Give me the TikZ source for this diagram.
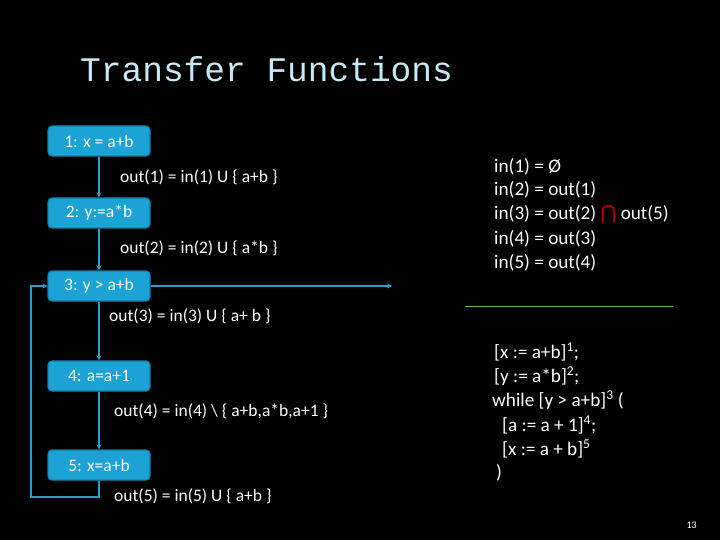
\documentclass[tikz,border=0pt]{standalone}
\usepackage{fontspec}
\setmainfont{Carlito}
\newfontfamily\titlefont{Liberation Mono}
\usetikzlibrary{arrows.meta}
\definecolor{boxc}{HTML}{1BA3D6}
\definecolor{boxe}{HTML}{1580AA}
\definecolor{linec}{HTML}{2A9CC8}
\begin{document}
\begin{tikzpicture}[x=1pt,y=-1pt,
  stmt/.style={draw=boxe,line width=1.2pt,fill=boxc,rounded corners=4pt,minimum width=102pt,minimum height=30pt,inner sep=0pt,text=white,font=\fontsize{17.5}{20}\selectfont},
  lbl/.style={anchor=west,text=white,inner sep=0pt,font=\fontsize{17.5}{20}\selectfont},
  rt/.style={anchor=west,text=white,inner sep=0pt,font=\fontsize{19.2}{23}\selectfont},
  conn/.style={draw=linec,line width=1.5pt,-{Stealth[length=5pt,width=5pt]}}]
\fill[black] (0,0) rectangle (720,540);
\useasboundingbox (0,0) rectangle (720,540);
\node[anchor=base west,inner sep=0pt,text={rgb,255:red,200;green,232;blue,245},font=\titlefont\fontsize{34.5}{40}\selectfont] (title) at (80,82) {Transfer Functions};
\node[stmt] (s1) at (99,141) {1: x = a+b};
\node[stmt] (s2) at (99,213) {2: y:=a*b};
\node[stmt] (s3) at (99,286) {3: y > a+b};
\node[stmt] (s4) at (99,376) {4: a=a+1};
\node[stmt] (s5) at (99,465) {5: x=a+b};
\coordinate (exit) at (392,286);
\coordinate (c1) at (99,497);
\coordinate (c2) at (31,497);
\coordinate (c3) at (31,286);
\draw[conn] (s1) -- (s2);
\draw[conn] (s2) -- (s3);
\draw[conn] (s3) -- (s4);
\draw[conn] (s4) -- (s5);
\draw[conn] (s3.east) -- (exit);
\draw[conn] (s5.south) -- (c1) -- (c2) -- (c3) -- (s3.west);
\node[lbl] (o1) at (120,177) {out(1) = in(1) U \{ a+b \}};
\node[lbl] (o2) at (120,248) {out(2) = in(2) U \{ a*b \}};
\node[lbl] (o3) at (109,316) {out(3) = in(3) U \{ a+ b \}};
\node[lbl] (o4) at (114,411) {out(4) = in(4) \textbackslash{} \{ a+b,a*b,a+1 \}};
\node[lbl] (o5) at (114,496) {out(5) = in(5) U \{ a+b \}};
\node[rt] (r1) at (494,167) {in(1) = Ø};
\node[rt] (r2) at (494,190) {in(2) = out(1)};
\node[rt] (r3) at (494,214) {in(3) = out(2) {\fontspec{DejaVu Sans}\textcolor{red!80!black}{⋂}} out(5)};
\node[rt] (r4) at (494,239) {in(4) = out(3)};
\node[rt] (r5) at (494,263) {in(5) = out(4)};
\draw[draw={rgb,255:red,120;green,190;blue,60},line width=0.8pt] (465,306) -- (673,306);
\node[rt] (p1) at (494,352) {[x := a+b]\textsuperscript{1};};
\node[rt] (p2) at (494,376) {[y := a*b]\textsuperscript{2};};
\node[rt] (p3) at (492,400) {while [y > a+b]\textsuperscript{3} (};
\node[rt] (p4) at (502,425) {[a := a + 1]\textsuperscript{4};};
\node[rt] (p5) at (502,449) {[x := a + b]\textsuperscript{5}};
\node[rt] (p6) at (496,473) {)};
\node[anchor=base east,text=white,inner sep=0pt,font=\fontsize{10}{12}\selectfont] (pg) at (697,528) {13};
\end{tikzpicture}
\end{document}
